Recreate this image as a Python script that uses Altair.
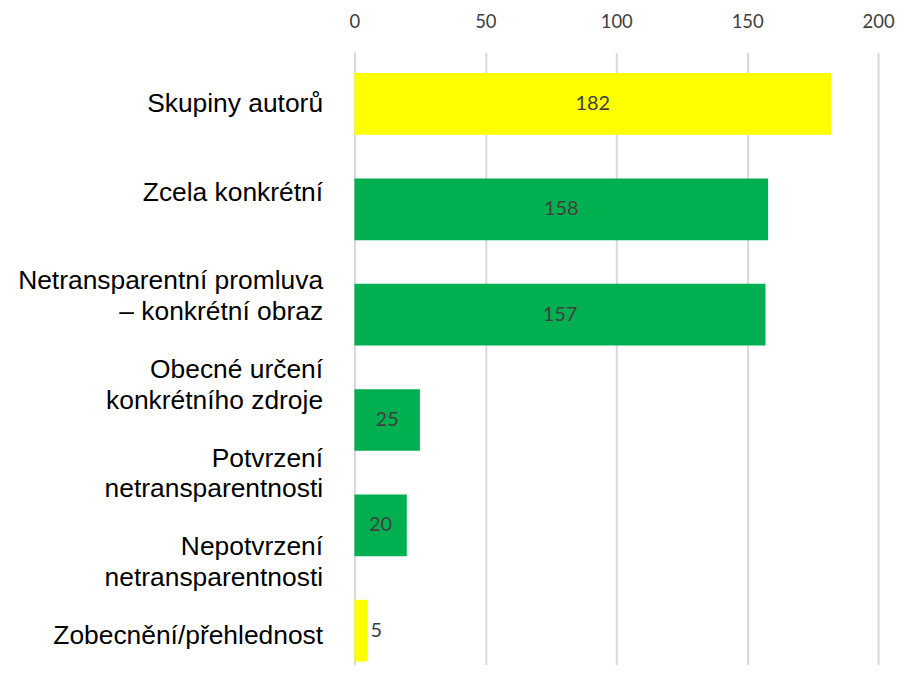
import altair as alt
import pandas as pd

# Category labels shown on the vertical axis (as in the source chart)
categories = [
    "Skupiny autorů",
    "Zcela konkrétní",
    "Netransparentní promluva\n– konkrétní obraz",
    "Obecné určení\nkonkrétního zdroje",
    "Potvrzení\nnetransparentnosti",
    "Nepotvrzení\nnetransparentnosti",
    "Zobecnění/přehlednost",
]

# Bars drawn in the source chart
bar_keys = [
    "Skupiny autorů",
    "Zcela konkrétní",
    "Netransparentní promluva",
    "Obecné určení",
    "Potvrzení",
    "Zobecnění/přehlednost",
]
bar_values = [182, 158, 157, 25, 20, 5]
bar_groups = ["A", "B", "B", "B", "B", "A"]

x_ticks = [0, 50, 100, 150, 200]

bars_df = pd.DataFrame({"bar": bar_keys, "value": bar_values, "group": bar_groups})
cats_df = pd.DataFrame({"cat": categories})

W, H = 526, 615

x_scale = alt.Scale(domain=[0, 200], nice=False)
y_bar = alt.Y(
    "bar:N",
    sort=bar_keys,
    axis=None,
    scale=alt.Scale(type="band", paddingInner=0.414, paddingOuter=0.113, align=0.875),
)

base = alt.Chart(bars_df)

bars = base.mark_bar().encode(
    x=alt.X(
        "value:Q",
        scale=x_scale,
        axis=alt.Axis(
            orient="top",
            values=x_ticks,
            title=None,
            domain=False,
            ticks=False,
            grid=True,
            gridColor="#d9d9d9",
            gridWidth=2,
            labelFont="Lato",
            labelFontSize=18.5,
            labelColor="#404040",
            labelPadding=21,
            labelFlush=False,
            minExtent=43,
            maxExtent=43,
        ),
    ),
    y=y_bar,
    color=alt.Color(
        "group:N",
        scale=alt.Scale(domain=["A", "B"], range=["#FFFF00", "#00B050"]),
        legend=None,
    ),
)

inside = (
    base.transform_filter("datum.value >= 10")
    .transform_calculate(mid="datum.value / 2")
    .mark_text(font="Lato", fontSize=20, color="#404040", baseline="middle", align="center")
    .encode(x=alt.X("mid:Q", scale=x_scale), y=y_bar, text="value:Q")
)

outside = (
    base.transform_filter("datum.value < 10")
    .mark_text(font="Lato", fontSize=20, color="#404040", baseline="middle", align="left", dx=3)
    .encode(x=alt.X("value:Q", scale=x_scale), y=y_bar, text="value:Q")
)

bar_layer = alt.layer(bars, inside, outside)

labels = alt.Chart(cats_df).mark_text(text="", opacity=0).encode(
    y=alt.Y(
        "cat:N",
        sort=categories,
        scale=alt.Scale(type="point", padding=0.4525, align=0.638),
        axis=alt.Axis(
            title=None,
            ticks=False,
            domain=True,
            domainColor="#d9d9d9",
            domainWidth=2,
            labelFont="Liberation Sans",
            labelFontSize=26.5,
            labelColor="#000000",
            labelAlign="right",
            labelBaseline="middle",
            labelLineHeight=31,
            labelLimit=500,
            labelPadding=32,
            labelExpr="split(datum.label, '\\n')",
            minExtent=348,
            maxExtent=348,
        ),
    ),
)

chart = (
    alt.layer(bar_layer, labels)
    .resolve_scale(y="independent")
    .resolve_axis(y="independent")
    .properties(
        width=W,
        height=H,
        padding={"left": 0, "top": 0, "right": 0, "bottom": 0},
        background="white",
    )
    .configure_view(stroke=None)
)

chart.save("out.html", embed_options={"renderer": "svg", "actions": False})
